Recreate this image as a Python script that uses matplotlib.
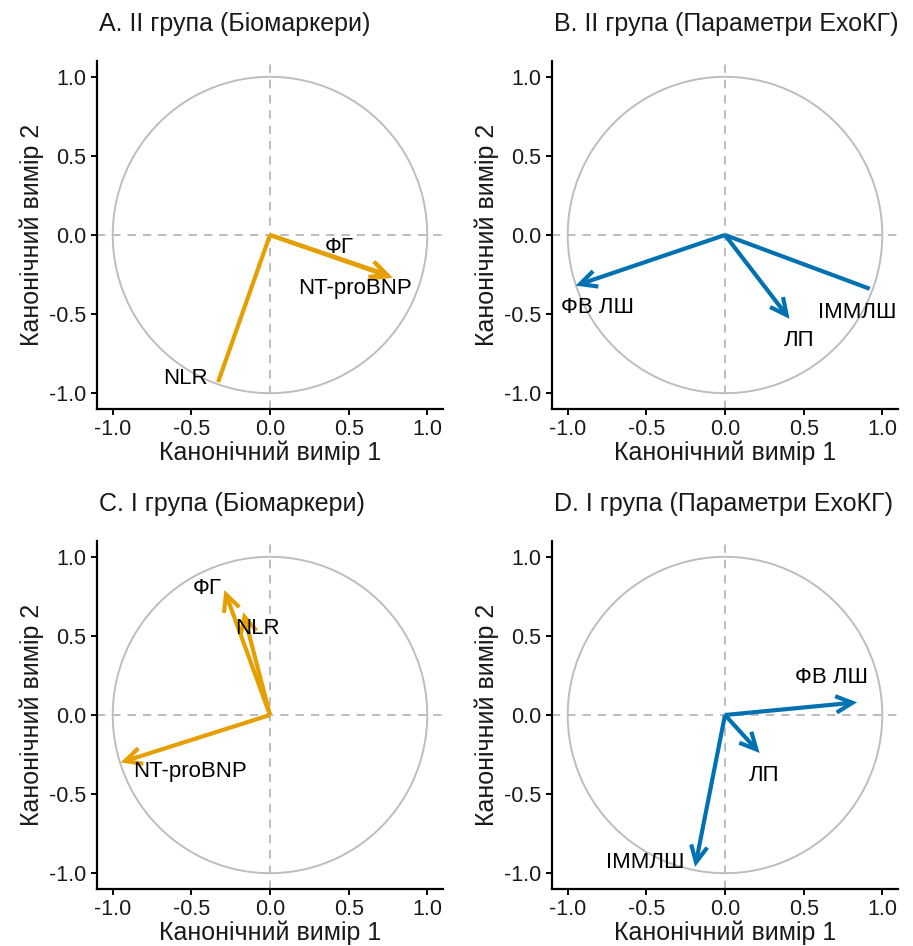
import matplotlib
matplotlib.use("Agg")
import matplotlib.pyplot as plt
from matplotlib.patches import Circle, FancyArrowPatch

plt.rcParams['font.family'] = ['Liberation Sans', 'DejaVu Sans']
plt.rcParams['lines.scale_dashes'] = False

# Panel titles
titles = ["A. II група (Біомаркери)", "B. II група (Параметри ЕхоКГ)",
          "C. I група (Біомаркери)", "D. I група (Параметри ЕхоКГ)"]

# Variable names
bio_vars = ["ФГ", "NT-proBNP", "NLR"]
echo_vars = ["ФВ ЛШ", "ЛП", "ІММЛШ"]

# Canonical structure coefficients (dimension 1, dimension 2)
a_x = [0.77, 0.78, -0.33]
a_y = [-0.26, -0.27, -0.93]
b_x = [-0.95, 0.41, 0.92]
b_y = [-0.32, -0.53, -0.34]
c_x = [-0.29, -0.95, -0.17]
c_y = [0.79, -0.30, 0.65]
d_x = [0.84, 0.22, -0.19]
d_y = [0.08, -0.24, -0.96]

ticks = [-1.0, -0.5, 0.0, 0.5, 1.0]
tick_labels = ["-1.0", "-0.5", "0.0", "0.5", "1.0"]

ORANGE = "#E69F00"
BLUE = "#0072B2"
GREY = "#BDBDBD"

# Label offsets from arrow tips (data units)
a_off = [(-0.33, 0.18), (-0.24, -0.07), (-0.21, 0.02)]
b_off = [(0.14, -0.14), (0.06, -0.14), (-0.08, -0.15)]
c_off = [(-0.11, 0.01), (0.44, -0.06), (0.09, -0.10)]
d_off = [(-0.16, 0.16), (0.03, -0.14), (-0.32, 0.03)]
# Whether each arrow shows a head
a_head = [True, True, False]
b_head = [True, True, False]
c_head = [True, True, True]
d_head = [True, True, True]

panels = [
    (titles[0], bio_vars, a_x, a_y, a_off, a_head, ORANGE),
    (titles[1], echo_vars, b_x, b_y, b_off, b_head, BLUE),
    (titles[2], bio_vars, c_x, c_y, c_off, c_head, ORANGE),
    (titles[3], echo_vars, d_x, d_y, d_off, d_head, BLUE),
]

W, H = 913, 946
fig = plt.figure(figsize=(W / 100, H / 100), dpi=100)

# axes boxes in pixels: left, top, width, height
boxes = [(97, 61, 346, 348), (552, 61, 346, 348),
         (97, 541, 346, 348), (552, 541, 346, 348)]

for (title, names, xs, ys, offs, heads, col), (l, t, w, h) in zip(panels, boxes):
    ax = fig.add_axes([l / W, 1 - (t + h) / H, w / W, h / H])
    ax.set_xlim(-1.1, 1.1)
    ax.set_ylim(-1.1, 1.1)
    ax.axhline(0, color=GREY, lw=1.4, linestyle=(0, (6, 5)), zorder=1)
    ax.axvline(0, color=GREY, lw=1.4, linestyle=(0, (6, 5)), zorder=1)
    ax.add_patch(Circle((0, 0), 1.0, fill=False, ec=GREY, lw=1.4, zorder=1))
    for name, x, y, (ox, oy), hd in zip(names, xs, ys, offs, heads):
        style = "->,head_length=0.85,head_width=0.42" if hd else "-"
        arr = FancyArrowPatch((0, 0), (x, y), arrowstyle=style,
                              mutation_scale=14, color=col, lw=3.0,
                              shrinkA=0, shrinkB=0, capstyle='butt',
                              joinstyle='miter', zorder=3)
        ax.add_patch(arr)
        ax.text(x + ox, y + oy, name, fontsize=16, ha='center', va='center',
                color='black', zorder=4)
    for s in ['top', 'right']:
        ax.spines[s].set_visible(False)
    for s in ['left', 'bottom']:
        ax.spines[s].set_linewidth(1.6)
    ax.set_xticks(ticks)
    ax.set_xticklabels(tick_labels)
    ax.set_yticks(ticks)
    ax.set_yticklabels(tick_labels)
    ax.tick_params(labelsize=15.5, length=4.5, width=1.4, color='black',
                   labelcolor='#1a1a1a', pad=3)
    ax.set_xlabel("Канонічний вимір 1", fontsize=18, color='#1a1a1a', labelpad=0)
    ax.set_ylabel("Канонічний вимір 2", fontsize=18, color='#1a1a1a', labelpad=4)
    fig.text((l + 2) / W, 1 - (t - 37) / H, title, fontsize=18, ha='left',
             va='center', color='#1a1a1a')

fig.savefig("out.png", dpi=100)
